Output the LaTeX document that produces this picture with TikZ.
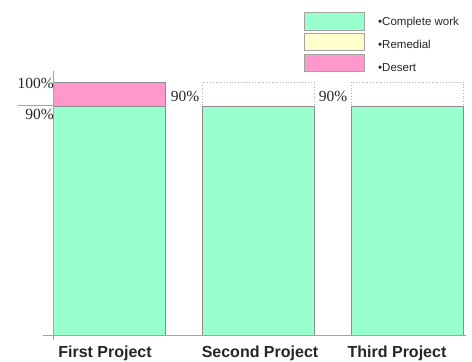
\documentclass[tikz,border=0pt]{standalone}
\usepackage{fontspec}
\setmainfont{Liberation Serif}
\newfontfamily\arialfont{Liberation Sans}
\definecolor{cgreen}{HTML}{99FFCC}
\definecolor{cpink}{HTML}{FF99CC}
\definecolor{cyellow}{HTML}{FFFFCC}
\definecolor{cedge}{HTML}{8C8C8C}
\begin{document}
\begin{tikzpicture}[x=1pt,y=-1pt,
  bar/.style={draw=cedge,line width=0.9pt},
  dotbox/.style={draw=cedge!70,dotted,line width=0.8pt},
  legbox/.style={draw=cedge!80,line width=0.9pt},
  pct/.style={font=\fontsize{15.5}{15.5}\selectfont,inner sep=0pt,text=black!85},
  proj/.style={font=\arialfont\bfseries\fontsize{16}{16}\selectfont,inner sep=0pt,text=black!85},
  legtext/.style={font=\arialfont\fontsize{11.5}{11.5}\selectfont,inner sep=0pt,anchor=west,text=black!85},
  axis/.style={draw=cedge!80,line width=0.7pt}]
\useasboundingbox (0,0) rectangle (472,362);
% bars
\fill[cpink] (53,82) rectangle (165,106);
\draw[bar] (53,82) rectangle (165,106);
\fill[cgreen] (53,106) rectangle (165,335);
\draw[bar] (53,106) rectangle (165,335);
\draw[dotbox] (202,82) rectangle (314,106);
\fill[cgreen] (202,106) rectangle (314,335);
\draw[bar] (202,106) rectangle (314,335);
\draw[dotbox] (351,82) rectangle (463,106);
\fill[cgreen] (351,106) rectangle (463,335);
\draw[bar] (351,106) rectangle (463,335);
% axes
\coordinate (ytop) at (53,71);
\coordinate (ybot) at (53,340);
\coordinate (xl) at (43,335);
\coordinate (xr) at (466,335);
\coordinate (t90l) at (18,105);
\coordinate (t90r) at (53,105);
\draw[axis] (ytop) -- (ybot);
\draw[axis] (xl) -- (xr);
\draw[axis] (t90l) -- (t90r);
% percent labels
\node[pct,anchor=east] (p100) at (54,83) {100\%};
\node[pct,anchor=east] (p90) at (54,114) {90\%};
\node[pct] (p90b) at (185,96) {90\%};
\node[pct] (p90c) at (333,96) {90\%};
% project labels
\node[proj] (l1) at (105,353) {First Project};
\node[proj] (l2) at (260,353) {Second Project};
\node[proj] (l3) at (397,353) {Third Project};
% legend
\node[legbox,fill=cgreen,minimum width=60pt,minimum height=18pt,inner sep=0pt] (g1) at (334,21) {};
\node[legbox,fill=cyellow,minimum width=60pt,minimum height=17pt,inner sep=0pt] (g2) at (334,42) {};
\node[legbox,fill=cpink,minimum width=60pt,minimum height=17pt,inner sep=0pt] (g3) at (334,63) {};
\node[legtext] (t1) at (378,23) {•Complete work};
\node[legtext] (t2) at (378,44) {•Remedial};
\node[legtext] (t3) at (378,68) {•Desert};
\end{tikzpicture}
\end{document}
